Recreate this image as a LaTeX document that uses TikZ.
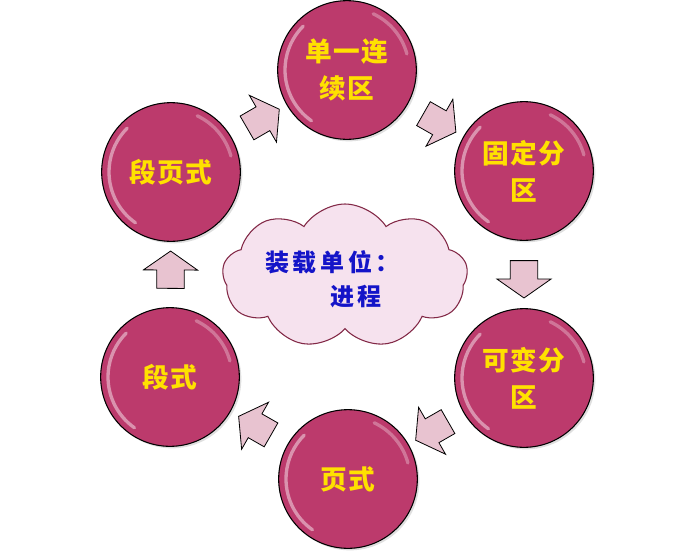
\documentclass[tikz,border=0pt]{standalone}
\usepackage{fontspec}
\newfontfamily\cjk{Noto Sans CJK SC}
\usetikzlibrary{shapes.arrows,shapes.symbols,shadows,calc}
\definecolor{ball}{RGB}{188,58,108}
\definecolor{arrowpink}{RGB}{232,195,208}
\definecolor{cloudfill}{RGB}{246,226,238}
\definecolor{cloudline}{RGB}{130,40,70}
\definecolor{ytext}{RGB}{255,225,0}
\definecolor{btext}{RGB}{20,20,200}
\tikzset{
  ballnode/.style={circle, minimum size=104pt, inner sep=0pt, draw=black, line width=0.8pt,
    fill=ball, drop shadow={shadow xshift=1.5pt, shadow yshift=-1.5pt, opacity=0.25},
    text=ytext, align=center, font=\cjk\bfseries\fontsize{20}{28}\selectfont\addfontfeature{LetterSpace=6}},
  blockarrow/.style={single arrow, draw=black, line width=0.6pt, fill=arrowpink,
    minimum height=28pt, single arrow head extend=10pt,
    single arrow head indent=0pt, single arrow tip angle=110, inner xsep=0pt, inner ysep=10pt},
  bluetext/.style={text=btext, font=\cjk\bfseries\fontsize{18}{24}\selectfont\addfontfeature{LetterSpace=15}, inner sep=0pt},
  gloss/.style={white, opacity=0.45, line width=2.5pt, line cap=round}
}
\begin{document}
\begin{tikzpicture}[x=0.75pt,y=-0.75pt]
\fill[white] (0,0) rectangle (685,554);
\useasboundingbox (0,0) rectangle (685,554);
% cloud
\node[cloud, cloud puffs=9, cloud puff arc=115, aspect=1.75, draw=cloudline, line width=0.8pt,
  fill=cloudfill, minimum width=184pt, minimum height=108pt] (cl) at (345,276) {};
\node[bluetext, anchor=west] (t1) at (265,262) {装载单位：};
\node[bluetext, anchor=west] (t2) at (330,297) {进程};
% balls
\node[ballnode] (b1) at (347,70) {单一连\\续区};
\node[ballnode] (b2) at (524,171) {固定分\\区};
\node[ballnode] (b3) at (524,378) {可变分\\区};
\node[ballnode] (b4) at (348,479) {页式};
\node[ballnode] (b5) at (170,377) {段式};
\node[ballnode] (b6) at (171,172) {段页式};
\foreach \n in {b1,b2,b3,b4,b5,b6}{
  \draw[gloss] ($(\n.center)+(125:62)$) arc[start angle=125, end angle=225, radius=62];
  \draw[gloss, opacity=0.3] ($(\n.center)+(-15:62)$) arc[start angle=-15, end angle=-65, radius=62];
}
% arrows
\path (b6) -- (b1) node[midway, sloped, allow upside down, blockarrow] (a1) {};
\path (b1) -- (b2) node[midway, sloped, allow upside down, blockarrow] (a2) {};
\path (b2) -- (b3) node[midway, sloped, allow upside down, blockarrow] (a3) {};
\path (b3) -- (b4) node[midway, sloped, allow upside down, blockarrow] (a4) {};
\path (b4) -- (b5) node[midway, sloped, allow upside down, blockarrow] (a5) {};
\path (b5) -- (b6) node[midway, sloped, allow upside down, blockarrow] (a6) {};
\end{tikzpicture}
\end{document}
